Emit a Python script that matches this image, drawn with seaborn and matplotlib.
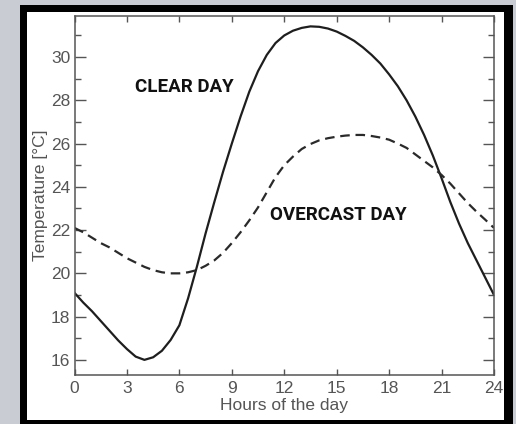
import matplotlib
matplotlib.use("Agg")
import matplotlib.pyplot as plt
from matplotlib.patches import Rectangle
from matplotlib.ticker import MultipleLocator
import numpy as np
import pandas as pd
import seaborn as sns

hours = [0, 0.5, 1, 1.5, 2, 2.5, 3, 3.5, 4, 4.5, 5, 5.5, 6, 6.5, 7, 7.5, 8, 8.5,
         9, 9.5, 10, 10.5, 11, 11.5, 12, 12.5, 13, 13.5, 14, 14.5, 15, 15.5,
         16, 16.5, 17, 17.5, 18, 18.5, 19, 19.5, 20, 20.5, 21, 21.5, 22, 22.5,
         23, 23.5, 24]
clear_day = [19.1, 18.65, 18.25, 17.8, 17.35, 16.9, 16.5, 16.15, 16.0, 16.12,
             16.42, 16.92, 17.6, 18.85, 20.3, 21.85, 23.3, 24.7, 26.0, 27.25,
             28.4, 29.35, 30.1, 30.65, 31.0, 31.22, 31.35, 31.42, 31.4, 31.32,
             31.18, 30.98, 30.75, 30.45, 30.1, 29.7, 29.2, 28.65, 28.0, 27.25,
             26.4, 25.45, 24.4, 23.3, 22.3, 21.4, 20.6, 19.8, 19.0]
overcast_day = [22.1, 21.9, 21.65, 21.4, 21.2, 20.95, 20.7, 20.5, 20.3, 20.15,
                20.05, 20.0, 20.0, 20.05, 20.15, 20.35, 20.6, 20.95, 21.4,
                21.9, 22.45, 23.05, 23.75, 24.45, 25.0, 25.4, 25.75, 25.98,
                26.15, 26.25, 26.32, 26.37, 26.4, 26.4, 26.35, 26.28, 26.18,
                26.0, 25.8, 25.5, 25.2, 24.9, 24.55, 24.15, 23.7, 23.25, 22.85,
                22.48, 22.1]
x_ticks = [0, 3, 6, 9, 12, 15, 18, 21, 24]
y_ticks = [16, 18, 20, 22, 24, 26, 28, 30]
label_clear = "CLEAR DAY"
label_overcast = "OVERCAST DAY"
x_label = "Hours of the day"
y_label = "Temperature [°C]"

df = pd.DataFrame({"hour": hours, "clear": clear_day, "overcast": overcast_day})

sns.set_style("ticks")
plt.rcParams['font.family'] = ['Liberation Sans', 'DejaVu Sans']

W, H = 516, 424
fig = plt.figure(figsize=(W / 100, H / 100), dpi=100, facecolor="#c9cdd3")

# photo-like black frame with white card
fig.add_artist(Rectangle((20 / W, 0), (513 - 20) / W, (H - 5) / H,
                         transform=fig.transFigure, facecolor="black",
                         edgecolor="none", zorder=-10))
fig.add_artist(Rectangle((27 / W, 4 / H), (504 - 27) / W, (H - 12 - 4) / H,
                         transform=fig.transFigure, facecolor="white",
                         edgecolor="none", zorder=-9))

ax = fig.add_axes([74.5 / W, (H - 375) / H, (494 - 74.5) / W, (375 - 16) / H])
ax.set_facecolor("white")

sns.lineplot(data=df, x="hour", y="clear", ax=ax, color="#1e1e1e",
             linewidth=1.6)
sns.lineplot(data=df, x="hour", y="overcast", ax=ax, color="#2a2a2a",
             linewidth=1.6, linestyle=(0, (4.3, 2.6)))

ax.set_xlim(0, 24)
ax.set_ylim(15.3, 31.9)
ax.set_xticks(x_ticks)
ax.set_yticks(y_ticks)
ax.yaxis.set_minor_locator(MultipleLocator(1))
ax.xaxis.set_minor_locator(MultipleLocator(6))

gray = "#555555"
for s in ax.spines.values():
    s.set_visible(True)
    s.set_color(gray)
    s.set_linewidth(1.1)

ax.tick_params(which="both", direction="in", top=True, right=True,
               color=gray, width=1.0, labelcolor=gray, labelsize=12.5)
ax.tick_params(axis="y", which="major", length=8, pad=3)
ax.tick_params(axis="y", which="minor", length=4.5)
ax.tick_params(axis="x", which="major", length=4.5, pad=4)
ax.tick_params(axis="x", which="minor", length=8)

ax.set_xlabel(x_label, fontsize=12.5, color=gray, labelpad=2)
ax.set_ylabel(y_label, fontsize=12.5, color=gray, labelpad=2)

cond = ['Roboto', 'DejaVu Sans']
ax.text(3.45, 28.6, label_clear, fontsize=13.5, fontweight="bold",
        family=cond, color="#111111", ha="left", va="center")
ax.text(11.2, 22.68, label_overcast, fontsize=13.5, fontweight="bold",
        family=cond, color="#111111", ha="left", va="center")

fig.savefig("out.png", dpi=100, facecolor=fig.get_facecolor())
